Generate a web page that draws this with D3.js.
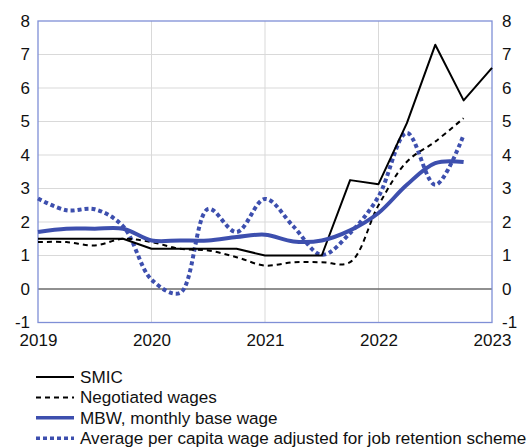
<!DOCTYPE html>
<html><head><meta charset="utf-8">
<script src="https://cdn.jsdelivr.net/npm/d3@7"></script>
<style>body{margin:0;background:#fff}svg{display:block;font-family:"Liberation Sans",Arial,sans-serif}</style>
</head><body><svg id="c" width="529" height="448"></svg>
<script>
const years = [2019, 2020, 2021, 2022, 2023];
const yTicks = [-1, 0, 1, 2, 3, 4, 5, 6, 7, 8];
// quarterly observations, index 0 = 2019 Q1
const smic       = [1.5, 1.5, 1.5, 1.5, 1.2, 1.2, 1.2, 1.2, 1.0, 1.0, 1.0, 3.25, 3.13, 4.95, 7.29, 5.63, 6.6];
const negotiated = [1.4, 1.4, 1.3, 1.5, 1.4, 1.2, 1.15, 0.95, 0.7, 0.8, 0.8, 0.8, 2.5, 3.8, 4.4, 5.1];
const mbw        = [1.7, 1.8, 1.8, 1.8, 1.45, 1.45, 1.45, 1.55, 1.62, 1.42, 1.45, 1.75, 2.27, 3.11, 3.76, 3.79];
const perCapita  = [2.7, 2.35, 2.38, 1.87, 0.28, -0.12, 2.39, 1.7, 2.69, 1.87, 1.02, 1.67, 2.76, 4.66, 3.11, 4.6];
const legendLabels = ["SMIC", "Negotiated wages", "MBW, monthly base wage", "Average per capita wage adjusted for job retention scheme"];

const svg = d3.select("#c");
const L = 38, R = 492, T = 21, B = 322.5;
const FS = 17;
const x = d3.scaleLinear().domain([2019, 2023]).range([L, R]);
const y = d3.scaleLinear().domain([-1, 8]).range([B, T]);
const qx = i => x(2019 + i / 4);

// gridlines
svg.append("g").selectAll("line").data(yTicks.filter(v => v !== 0 && v !== -1 && v !== 8)).join("line")
  .attr("x1", L).attr("x2", R).attr("y1", d => y(d)).attr("y2", d => y(d))
  .attr("stroke", "#d9d9d9").attr("stroke-width", 1);
svg.append("g").selectAll("line").data(years.slice(1, -1)).join("line")
  .attr("x1", d => x(d)).attr("x2", d => x(d)).attr("y1", T).attr("y2", B)
  .attr("stroke", "#d9d9d9").attr("stroke-width", 1);
svg.append("line").attr("x1", L).attr("x2", R).attr("y1", y(0)).attr("y2", y(0))
  .attr("stroke", "#6b6b6b").attr("stroke-width", 1.3);

// frame
svg.append("rect").attr("x", L).attr("y", T).attr("width", R - L).attr("height", B - T)
  .attr("fill", "none").attr("stroke", "#7f8fd6").attr("stroke-width", 1.3);

// axes labels
const fmt = d => String(d);
const yl = d3.axisLeft(y).tickValues(yTicks).tickFormat(fmt).tickSize(0).tickPadding(8);
const yr = d3.axisRight(y).tickValues(yTicks).tickFormat(fmt).tickSize(0).tickPadding(10);
const xb = d3.axisBottom(x).tickValues(years).tickFormat(fmt).tickSize(0).tickPadding(11);
function style(g){ g.select(".domain").remove(); g.selectAll("text").attr("font-size", FS).attr("fill", "#111").attr("font-family", "Liberation Sans, Arial, sans-serif"); }
svg.append("g").attr("transform", `translate(${L},0)`).call(yl).call(style);
svg.append("g").attr("transform", `translate(${R},0)`).call(yr).call(style);
svg.append("g").attr("transform", `translate(0,${B})`).call(xb).call(style);

const lineLin = d3.line().x((d, i) => qx(i)).y(d => y(d));
const lineSm = d3.line().x((d, i) => qx(i)).y(d => y(d)).curve(d3.curveCatmullRom.alpha(0.5));

const series = [
  {data: smic, gen: lineLin, color: "#000", w: 2, dash: null},
  {data: negotiated, gen: lineSm, color: "#000", w: 2, dash: "5,4"},
  {data: mbw, gen: lineSm, color: "#3d4fae", w: 4, dash: null},
  {data: perCapita, gen: lineSm, color: "#3d4fae", w: 4, dash: "4,3"}
];
const drawOrder = [3, 1, 0, 2];
drawOrder.forEach(k => {
  const s = series[k];
  svg.append("path").attr("d", s.gen(s.data)).attr("fill", "none")
    .attr("stroke", s.color).attr("stroke-width", s.w)
    .attr("stroke-dasharray", s.dash).attr("stroke-linejoin", "round");
});

// legend
const lg = svg.append("g");
legendLabels.forEach((t, i) => {
  const s = series[i];
  const yy = 377 + i * 20.4;
  lg.append("line").attr("x1", 36).attr("x2", 74).attr("y1", yy).attr("y2", yy)
    .attr("stroke", s.color).attr("stroke-width", s.w === 4 ? 3.5 : 2).attr("stroke-dasharray", s.dash);
  lg.append("text").attr("x", 80).attr("y", yy).attr("dy", "0.35em").attr("font-size", 17.1).attr("fill", "#111").text(t);
});
</script></body></html>
